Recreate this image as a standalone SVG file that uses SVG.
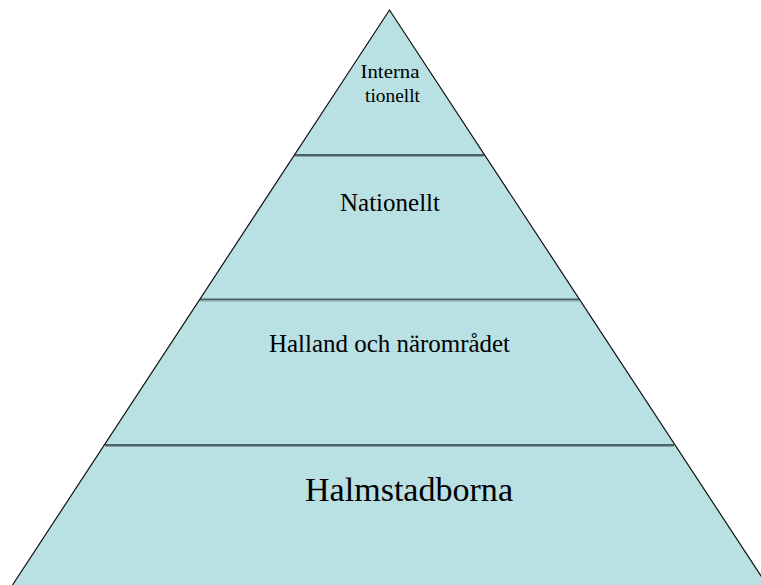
<svg xmlns="http://www.w3.org/2000/svg" width="761" height="585" viewBox="0 0 761 585">
<style>
.band{fill:#b9e0e3;stroke:none}
.edge{fill:none;stroke:#111;stroke-width:1.2}
.sep{stroke:#4b6164;stroke-width:2}
.sep2{stroke:#8fa3a5;stroke-width:1}
text{font-family:"Liberation Serif","Times New Roman",serif;fill:#000;text-anchor:middle}
</style>
<rect width="761" height="585" fill="#fff"/>
<g id="pyramid">
<polygon class="band" points="389.5,10 12.5,585 767,585"/>
</g>
<g id="connectors">
<line class="sep" x1="295" y1="155" x2="484" y2="155"/>
<line class="sep2" x1="295" y1="156.5" x2="484" y2="156.5"/>
<line class="sep" x1="200" y1="299.5" x2="579" y2="299.5"/>
<line class="sep2" x1="200" y1="301" x2="579" y2="301"/>
<line class="sep" x1="105" y1="445" x2="674" y2="445"/>
<line class="sep2" x1="105" y1="446.5" x2="674" y2="446.5"/>
<polyline class="edge" points="12.5,585 389.5,10 767,585"/>
</g>
<g id="node-international">
<text x="390" y="77.5" font-size="18" textLength="59" lengthAdjust="spacingAndGlyphs">Interna</text>
<text x="392.5" y="101.5" font-size="18" textLength="55" lengthAdjust="spacingAndGlyphs">tionellt</text>
</g>
<g id="node-nationellt">
<text x="390" y="210.5" font-size="25" textLength="100" lengthAdjust="spacingAndGlyphs">Nationellt</text>
</g>
<g id="node-halland">
<text x="389.5" y="352" font-size="25.5" textLength="241" lengthAdjust="spacingAndGlyphs">Halland och närområdet</text>
</g>
<g id="node-halmstad">
<text x="409" y="500.5" font-size="34" textLength="208" lengthAdjust="spacingAndGlyphs">Halmstadborna</text>
</g>
</svg>
